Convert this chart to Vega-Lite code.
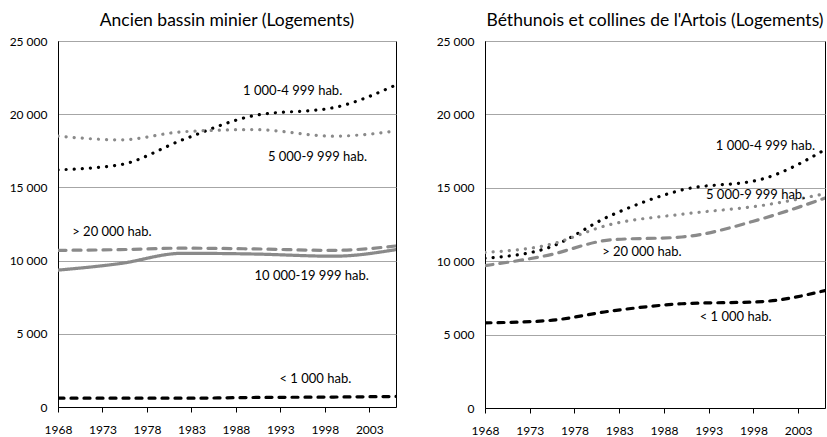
{
  "$schema": "https://vega.github.io/schema/vega-lite/v6.json",
  "background": "white",
  "padding": {"left": 8, "top": 11, "right": 2, "bottom": 0},
  "spacing": 38,
  "config": {
    "font": "Lato",
    "view": {"stroke": "#000", "strokeWidth": 1},
    "axis": {"labelFont": "Lato", "labelFontSize": 12, "labelColor": "#000", "domainColor": "#000", "tickColor": "#000", "title": null},
    "title": {"font": "Lato", "fontSize": 17.5, "fontWeight": "normal", "color": "#000", "offset": 6}
  },
  "datasets": {
    "series": [
      {"panel": "A", "series": "1000-4999", "year": 1968, "value": 16200},
      {"panel": "A", "series": "1000-4999", "year": 1975, "value": 16550},
      {"panel": "A", "series": "1000-4999", "year": 1982, "value": 18250},
      {"panel": "A", "series": "1000-4999", "year": 1990, "value": 19900},
      {"panel": "A", "series": "1000-4999", "year": 1999, "value": 20450},
      {"panel": "A", "series": "1000-4999", "year": 2006, "value": 22000},
      {"panel": "A", "series": "5000-9999", "year": 1968, "value": 18500},
      {"panel": "A", "series": "5000-9999", "year": 1975, "value": 18250},
      {"panel": "A", "series": "5000-9999", "year": 1982, "value": 18800},
      {"panel": "A", "series": "5000-9999", "year": 1990, "value": 18950},
      {"panel": "A", "series": "5000-9999", "year": 1999, "value": 18500},
      {"panel": "A", "series": "5000-9999", "year": 2006, "value": 18850},
      {"panel": "A", "series": ">20000", "year": 1968, "value": 10700},
      {"panel": "A", "series": ">20000", "year": 1975, "value": 10750},
      {"panel": "A", "series": ">20000", "year": 1982, "value": 10850},
      {"panel": "A", "series": ">20000", "year": 1990, "value": 10800},
      {"panel": "A", "series": ">20000", "year": 1999, "value": 10700},
      {"panel": "A", "series": ">20000", "year": 2006, "value": 11000},
      {"panel": "A", "series": "10000-19999", "year": 1968, "value": 9350},
      {"panel": "A", "series": "10000-19999", "year": 1975, "value": 9800},
      {"panel": "A", "series": "10000-19999", "year": 1982, "value": 10500},
      {"panel": "A", "series": "10000-19999", "year": 1990, "value": 10450},
      {"panel": "A", "series": "10000-19999", "year": 1999, "value": 10300},
      {"panel": "A", "series": "10000-19999", "year": 2006, "value": 10750},
      {"panel": "A", "series": "<1000", "year": 1968, "value": 600},
      {"panel": "A", "series": "<1000", "year": 1975, "value": 600},
      {"panel": "A", "series": "<1000", "year": 1982, "value": 600},
      {"panel": "A", "series": "<1000", "year": 1990, "value": 650},
      {"panel": "A", "series": "<1000", "year": 1999, "value": 680},
      {"panel": "A", "series": "<1000", "year": 2006, "value": 720},
      {"panel": "B", "series": "1000-4999", "year": 1968, "value": 10200},
      {"panel": "B", "series": "1000-4999", "year": 1975, "value": 10900},
      {"panel": "B", "series": "1000-4999", "year": 1982, "value": 13100},
      {"panel": "B", "series": "1000-4999", "year": 1990, "value": 14850},
      {"panel": "B", "series": "1000-4999", "year": 1999, "value": 15600},
      {"panel": "B", "series": "1000-4999", "year": 2006, "value": 17600},
      {"panel": "B", "series": "5000-9999", "year": 1968, "value": 10600},
      {"panel": "B", "series": "5000-9999", "year": 1975, "value": 11100},
      {"panel": "B", "series": "5000-9999", "year": 1982, "value": 12500},
      {"panel": "B", "series": "5000-9999", "year": 1990, "value": 13200},
      {"panel": "B", "series": "5000-9999", "year": 1999, "value": 13800},
      {"panel": "B", "series": "5000-9999", "year": 2006, "value": 14600},
      {"panel": "B", "series": ">20000", "year": 1968, "value": 9700},
      {"panel": "B", "series": ">20000", "year": 1975, "value": 10400},
      {"panel": "B", "series": ">20000", "year": 1982, "value": 11450},
      {"panel": "B", "series": ">20000", "year": 1990, "value": 11650},
      {"panel": "B", "series": ">20000", "year": 1999, "value": 12900},
      {"panel": "B", "series": ">20000", "year": 2006, "value": 14300},
      {"panel": "B", "series": "<1000", "year": 1968, "value": 5800},
      {"panel": "B", "series": "<1000", "year": 1975, "value": 5950},
      {"panel": "B", "series": "<1000", "year": 1982, "value": 6600},
      {"panel": "B", "series": "<1000", "year": 1990, "value": 7100},
      {"panel": "B", "series": "<1000", "year": 1999, "value": 7250},
      {"panel": "B", "series": "<1000", "year": 2006, "value": 8000}
    ],
    "labels": [
      {"panel": "A", "text": "1 000-4 999 hab.", "year": 1988.8, "value": 21600},
      {"panel": "A", "text": "5 000-9 999 hab.", "year": 1991.6, "value": 17100},
      {"panel": "A", "text": "> 20 000 hab.", "year": 1969.6, "value": 11950},
      {"panel": "A", "text": "10 000-19 999 hab.", "year": 1990.1, "value": 8950},
      {"panel": "A", "text": "< 1 000 hab.", "year": 1992.9, "value": 1900},
      {"panel": "B", "text": "1 000-4 999 hab.", "year": 1993.8, "value": 17850},
      {"panel": "B", "text": "5 000-9 999 hab.", "year": 1992.7, "value": 14500},
      {"panel": "B", "text": "> 20 000 hab.", "year": 1981.1, "value": 10600},
      {"panel": "B", "text": "< 1 000 hab.", "year": 1992.0, "value": 6200}
    ]
  },
  "hconcat": [
    {
      "title": "Ancien bassin minier (Logements)",
      "width": 338,
      "height": 366,
      "layer": [
        {
          "data": {"name": "series"},
          "transform": [{"filter": "datum.panel === 'A'"}],
          "mark": {"type": "line", "interpolate": "monotone", "strokeWidth": 3.2, "strokeCap": "round", "clip": true},
          "encoding": {
            "x": {"field": "year", "type": "quantitative", "scale": {"domain": [1968, 2006], "nice": false, "zero": false}, "axis": {"values": [1968, 1973, 1978, 1983, 1988, 1993, 1998, 2003], "format": "d", "grid": false, "tickSize": 5, "labelPadding": 12, "labelFlush": false, "labelOverlap": false}},
            "y": {"field": "value", "type": "quantitative", "scale": {"domain": [0, 25000], "nice": false}, "axis": {"values": [0, 5000, 10000, 15000, 20000, 25000], "labelExpr": "replace(format(datum.value, ','), ',', ' ')", "grid": true, "gridColor": "#a6a6a6", "ticks": false, "labelPadding": 11, "labelFlush": false}},
            "color": {"field": "series", "type": "nominal", "legend": null, "scale": {"domain": ["1000-4999", "5000-9999", ">20000", "10000-19999", "<1000"], "range": ["#000000", "#8a8a8a", "#8a8a8a", "#8a8a8a", "#000000"]}},
            "strokeDash": {"field": "series", "type": "nominal", "legend": null, "scale": {"domain": ["1000-4999", "5000-9999", ">20000", "10000-19999", "<1000"], "range": [[0.1, 8], [0.1, 8], [8, 7], [1, 0], [6, 7]]}}
          }
        },
        {
          "data": {"name": "labels"},
          "transform": [{"filter": "datum.panel === 'A'"}],
          "mark": {"type": "text", "align": "left", "baseline": "middle", "fontSize": 13, "color": "#000"},
          "encoding": {
            "x": {"field": "year", "type": "quantitative"},
            "y": {"field": "value", "type": "quantitative"},
            "text": {"field": "text"}
          }
        }
      ]
    },
    {
      "title": "Béthunois et collines de l'Artois (Logements)",
      "width": 340,
      "height": 367,
      "layer": [
        {
          "data": {"name": "series"},
          "transform": [{"filter": "datum.panel === 'B'"}],
          "mark": {"type": "line", "interpolate": "monotone", "strokeWidth": 3.2, "strokeCap": "round", "clip": true},
          "encoding": {
            "x": {"field": "year", "type": "quantitative", "scale": {"domain": [1968, 2006], "nice": false, "zero": false}, "axis": {"values": [1968, 1973, 1978, 1983, 1988, 1993, 1998, 2003], "format": "d", "grid": false, "tickSize": 5, "labelPadding": 12, "labelFlush": false, "labelOverlap": false}},
            "y": {"field": "value", "type": "quantitative", "scale": {"domain": [0, 25000], "nice": false}, "axis": {"values": [0, 5000, 10000, 15000, 20000, 25000], "labelExpr": "replace(format(datum.value, ','), ',', ' ')", "grid": true, "gridColor": "#a6a6a6", "ticks": false, "labelPadding": 11, "labelFlush": false}},
            "color": {"field": "series", "type": "nominal", "legend": null, "scale": {"domain": ["1000-4999", "5000-9999", ">20000", "10000-19999", "<1000"], "range": ["#000000", "#8a8a8a", "#8a8a8a", "#8a8a8a", "#000000"]}},
            "strokeDash": {"field": "series", "type": "nominal", "legend": null, "scale": {"domain": ["1000-4999", "5000-9999", ">20000", "10000-19999", "<1000"], "range": [[0.1, 8], [0.1, 8], [10, 7], [1, 0], [6, 7]]}}
          }
        },
        {
          "data": {"name": "labels"},
          "transform": [{"filter": "datum.panel === 'B'"}],
          "mark": {"type": "text", "align": "left", "baseline": "middle", "fontSize": 13, "color": "#000"},
          "encoding": {
            "x": {"field": "year", "type": "quantitative"},
            "y": {"field": "value", "type": "quantitative"},
            "text": {"field": "text"}
          }
        }
      ]
    }
  ]
}
